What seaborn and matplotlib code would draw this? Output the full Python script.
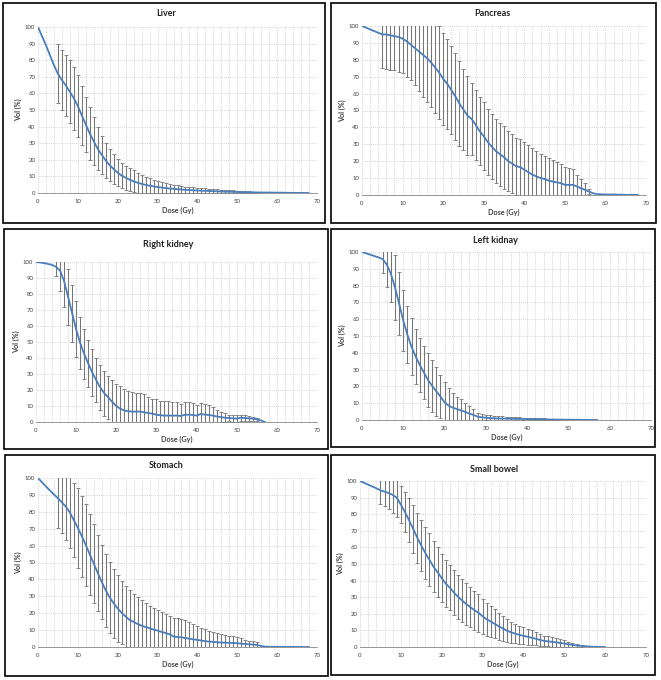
import numpy as np
import matplotlib
matplotlib.use("Agg")
import matplotlib.pyplot as plt
from matplotlib.patches import Rectangle
from matplotlib.ticker import MultipleLocator
import seaborn as sns

sns.set_theme(style="white")
plt.rcParams['font.family'] = ['Lato', 'DejaVu Sans']


# ══════════════════════════════════════════════════════════════════
# 1.  DATA  (mean DVH from 0 Gy in 1 Gy steps, SD from 5 Gy)
# ══════════════════════════════════════════════════════════════════

SD_START = 5

liver_mean = [100, 94.5, 89, 83, 77, 71.8, 68, 64.7, 61, 57, 52.3, 46.7, 41.2, 35.8,
              31.1, 26.6, 23, 19.5, 16.7, 14.4, 12.2, 10.5, 9.2, 8, 7, 6.2, 5.5, 4.9,
              4.4, 4.0, 3.6, 3.3, 3.0, 2.7, 2.5, 2.3, 2.1, 1.9, 1.8, 1.6, 1.5, 1.4, 1.3,
              1.2, 1.1, 1.0, 0.9, 0.8, 0.75, 0.7, 0.6, 0.55, 0.5, 0.45, 0.4, 0.35, 0.3,
              0.3, 0.3, 0.25, 0.2, 0.2, 0.15, 0.1, 0.1, 0.05, 0.05, 0.02, 0]
liver_sd = [17.8, 18, 18.3, 19, 19, 18.7, 17.7, 16.8, 15.8, 14.5, 13, 11.4, 10.5, 9.7,
            9, 8.2, 7.5, 7.2, 7, 6.6, 6, 5.5, 5, 4.7, 4.1, 3.9, 3.5, 3.2, 2.9, 2.6,
            2.4, 2.2, 2.0, 1.9, 1.8, 1.7, 1.6, 1.5, 1.4, 1.3, 1.2, 1.1, 1.0, 0.9,
            0.85, 0.8, 0.7, 0.6, 0.5, 0.45, 0.4]

pancreas_mean = [100, 99, 98, 97, 96, 95, 95, 94.5, 94, 93.5, 92.5, 91, 89, 87, 85, 83,
                 81, 78.5, 75.5, 72.5, 68.8, 65.8, 62.2, 58.4, 54.2, 50.5, 47, 45, 41.6,
                 37.8, 34.8, 31.3, 28.6, 26, 24.1, 22.4, 20.1, 18.6, 17, 16.5, 15, 13.5,
                 12, 11, 10, 9.5, 8.5, 8, 7.5, 7, 6, 6, 6, 5, 4, 3, 2, 1, 0.5, 0.4, 0.3,
                 0.3, 0.3, 0.2, 0.2, 0.1, 0.1, 0.1, 0.1]
pancreas_sd = [20, 20.5, 20.5, 20, 20.5, 20.5, 21, 21, 22, 23.5, 25, 26, 26.5, 27, 27.5,
               27.2, 26.8, 26.2, 25.6, 25.2, 24, 23.5, 21.3, 20.6, 20.2, 20.2, 19.6,
               19.3, 19, 18.6, 18.6, 17.9, 17.4, 17, 16.9, 16.4, 16.1, 15.9, 15.3, 14.5,
               13.5, 13.2, 13, 12.3, 11.4, 10.6, 10.2, 9.2, 6.7, 5.7, 4, 1.6]

rkidney_mean = [100, 99.7, 99.3, 98.8, 98.2, 97, 94.6, 88, 78.2, 68, 57.9, 49.4, 42.5,
                36.6, 31, 26.2, 21.6, 18, 15.4, 12.5, 10, 8.3, 7.2, 6.7, 6.5, 6.5, 6.5,
                6, 5.6, 5.2, 4.5, 4.2, 4, 4, 4, 4, 3.8, 4.4, 4.6, 4.4, 4, 5, 4.6, 4.4,
                4, 3.5, 3.1, 2.7, 2.5, 2.3, 2.1, 2.7, 2.5, 2.3, 2.1, 1.7, 1, 0]
rkidney_sd = [6, 12.9, 16.3, 17.4, 17.8, 17.5, 16.4, 15.6, 14.9, 14.6, 14, 14, 14, 13.5,
              14, 14, 14, 13.4, 12.9, 12, 11.6, 11.6, 11.5, 10.2, 9.4, 9.7, 9.1, 9.1,
              8.9, 8.5, 8.5, 7.7, 7.9, 7.7, 7.5, 6.8, 7.1, 6.6, 6, 5.2, 4.2, 2.9, 2.7,
              2.1, 2.1, 2.3, 1.9, 1.9, 1.7, 1.2, 0.8]

lkidney_mean = [100, 99.2, 98.4, 97.6, 96.8, 95.8, 92.5, 87, 78.9, 69.2, 59.2, 50.7, 43.6,
                37.7, 32.7, 28.2, 23.8, 20.3, 17.1, 14, 10.5, 8.5, 7.3, 6.5, 5.7, 4.8,
                3.8, 3, 2, 1.6, 1.4, 1.2, 1.0, 0.9, 0.85, 0.8, 0.75, 0.7, 0.65, 0.6,
                0.55, 0.5, 0.45, 0.4, 0.35, 0.3, 0.3, 0.25, 0.2, 0.2, 0.15, 0.15, 0.1,
                0.1, 0.05, 0.05, 0.02, 0]
lkidney_sd = [8.3, 13.3, 16.9, 19.1, 18.9, 18, 17, 16.9, 16.3, 15.9, 15.9, 15.9, 15.3,
              14.7, 12.7, 12.1, 10.3, 8.9, 7.4, 6.6, 5.5, 4.3, 3.3, 2.4, 2, 1.6, 1.6,
              1.6, 1.5, 1.35, 1.2, 1.05, 0.9, 0.95, 0.8, 0.85, 0.7, 0.65, 0.6, 0.55,
              0.5, 0.4, 0.35]

stomach_mean = [100, 97.5, 95, 92.6, 90.3, 88, 85.6, 83, 79.6, 75, 70.5, 65.5, 60.3,
                54.8, 49.3, 43.8, 38.5, 33.5, 29.3, 25.8, 22.8, 20.2, 18, 16, 14.8, 13.6,
                12.6, 11.8, 11.1, 10.3, 9.7, 8.9, 8.3, 7.5, 6.2, 5.9, 5.7, 5.3, 4.9, 4.5,
                4.2, 3.8, 3.4, 3.2, 3, 2.8, 2.6, 2.6, 2.4, 2.4, 2.2, 2, 1.8, 1.6, 1.4,
                1.2, 0.6, 0.2, 0.1, 0.1, 0.1, 0.1, 0.05, 0.05, 0.05, 0.02, 0.02, 0, 0]
stomach_sd = [17.6, 18.4, 19.8, 21.1, 22, 23.5, 24, 24.3, 24, 23.4, 22.5, 21.8, 21.5, 21,
              20.5, 19.8, 18.7, 17.8, 17.6, 16.8, 16, 15.3, 14.3, 13.2, 12.8, 12.4, 12,
              11.3, 10.7, 11, 11.1, 11.1, 10.5, 9.7, 8.9, 8.4, 7.7, 7.1, 6.3, 5.9, 5.3,
              4.9, 4.5, 4.3, 3.9, 3.5, 3.1, 2.2, 2, 2, 2]

bowel_mean = [100, 98.9, 97.8, 96.7, 95.6, 94.4, 93.6, 92.8, 91.6, 90, 85.7, 81.3, 76.4,
              71.2, 65.9, 61, 56.6, 52.5, 48.3, 45, 41.5, 38.2, 35.7, 32.7, 30.3, 28,
              25.9, 24, 22.2, 20.6, 18.5, 16.7, 15.3, 13.9, 12.4, 11.1, 9.8, 8.8, 8, 7.3,
              6.7, 6.2, 5.6, 5, 4.3, 3.7, 3.4, 3.1, 2.8, 2.4, 2.1, 1.6, 1.3, 0.9, 0.7,
              0.5, 0.3, 0.15, 0.08, 0.03, 0]
bowel_sd = [8.4, 8.6, 9.4, 10.6, 11.6, 11.3, 12.3, 13.4, 14.4, 15.1, 15.4, 15.8, 15.9,
            15.3, 15, 14.5, 14.2, 13.7, 13.7, 13.3, 13, 12.5, 12, 11.8, 11.4, 10.5, 9.9,
            9.3, 8.7, 8, 7.5, 6.8, 6.2, 5.8, 5.3, 5.1, 4.8, 4.4, 4, 3.5, 3.1, 3, 2.9,
            2.6, 2.2, 1.9, 1.4, 1.1, 0.7, 0.5]

titles = ["Liver", "Pancreas", "Right kidney", "Left kidnay", "Stomach", "Small bowel"]
means = [liver_mean, pancreas_mean, rkidney_mean, lkidney_mean, stomach_mean, bowel_mean]
sds = [liver_sd, pancreas_sd, rkidney_sd, lkidney_sd, stomach_sd, bowel_sd]


# ══════════════════════════════════════════════════════════════════
# 2.  LAYOUT  (pixel boxes on a 661 x 680 canvas)
# ══════════════════════════════════════════════════════════════════

W, H = 661, 680
# plot area: left, top, right, bottom
axes_px = [(38, 27, 317, 193), (362, 26, 646, 195),
           (36, 262, 317, 422), (362, 252, 651, 420),
           (38, 478, 317, 647), (360, 481, 646, 647)]
title_px = [(166, 14), (492, 14), (168, 244), (495, 240), (166, 466), (494, 469)]
frame_px = [(3, 3, 325, 223), (331, 3, 656, 223),
            (4, 229, 328, 449), (331, 229, 655, 447),
            (5, 455, 328, 676), (331, 455, 655, 675)]

LINE_COLOR = '#4A7EBB'
BAR_COLOR = '#767676'
GRID_COLOR = '#C8C8C8'
TEXT_COLOR = '#404040'


def px_rect(l, t, r, b):
    return [l / W, 1 - b / H, (r - l) / W, (b - t) / H]


def draw_dvh(ax, mean, sd):
    """Mean DVH line with +/- SD whiskers, Excel look."""
    dose = np.arange(len(mean))
    m = np.asarray(mean, dtype=float)
    s = np.asarray(sd, dtype=float)
    sd_dose = np.arange(SD_START, SD_START + len(s))
    ax.errorbar(sd_dose, m[sd_dose], yerr=s, fmt='none', ecolor=BAR_COLOR,
                elinewidth=0.75, capsize=1.6, capthick=0.6, zorder=2)
    sns.lineplot(x=dose, y=m, ax=ax, color=LINE_COLOR, linewidth=1.3, zorder=3)

    ax.set_xlim(0, 70)
    ax.set_ylim(0, 100)
    ax.xaxis.set_major_locator(MultipleLocator(10))
    ax.xaxis.set_minor_locator(MultipleLocator(2))
    ax.yaxis.set_major_locator(MultipleLocator(10))
    ax.grid(which='both', axis='x', color=GRID_COLOR, linestyle=(0, (1.5, 1.5)), linewidth=0.5)
    ax.grid(which='major', axis='y', color=GRID_COLOR, linestyle=(0, (1.5, 1.5)), linewidth=0.5)
    ax.set_axisbelow(True)

    for side in ['top', 'right', 'left']:
        ax.spines[side].set_visible(False)
    ax.spines['bottom'].set_color('#868686')
    ax.spines['bottom'].set_linewidth(0.6)
    ax.tick_params(axis='both', which='major', labelsize=4.3, colors=TEXT_COLOR,
                   length=0, pad=2)
    ax.tick_params(axis='x', which='major', length=2, width=0.5, color='#868686')
    ax.tick_params(which='minor', length=0)

    ax.set_xlabel('Dose (Gy)', fontsize=5.2, fontweight='bold', color=TEXT_COLOR, labelpad=2)
    ax.set_ylabel('Vol (%)', fontsize=5.2, fontweight='bold', color=TEXT_COLOR, labelpad=2)


# ══════════════════════════════════════════════════════════════════
# 3.  FIGURE
# ══════════════════════════════════════════════════════════════════

fig = plt.figure(figsize=(W / 100, H / 100), dpi=100)
fig.patch.set_facecolor('white')

for i in range(6):
    ax = fig.add_axes(px_rect(*axes_px[i]))
    ax.set_facecolor('white')
    draw_dvh(ax, means[i], sds[i])

    tx, ty = title_px[i]
    fig.text(tx / W, 1 - ty / H, titles[i], ha='center', va='center',
             fontsize=6.5, fontweight='bold', color='#202020')

    l, t, r, b = frame_px[i]
    fig.add_artist(Rectangle((l / W, 1 - b / H), (r - l) / W, (b - t) / H,
                             transform=fig.transFigure, fill=False,
                             edgecolor='black', linewidth=1.2))

fig.savefig('out.png', dpi=100)
